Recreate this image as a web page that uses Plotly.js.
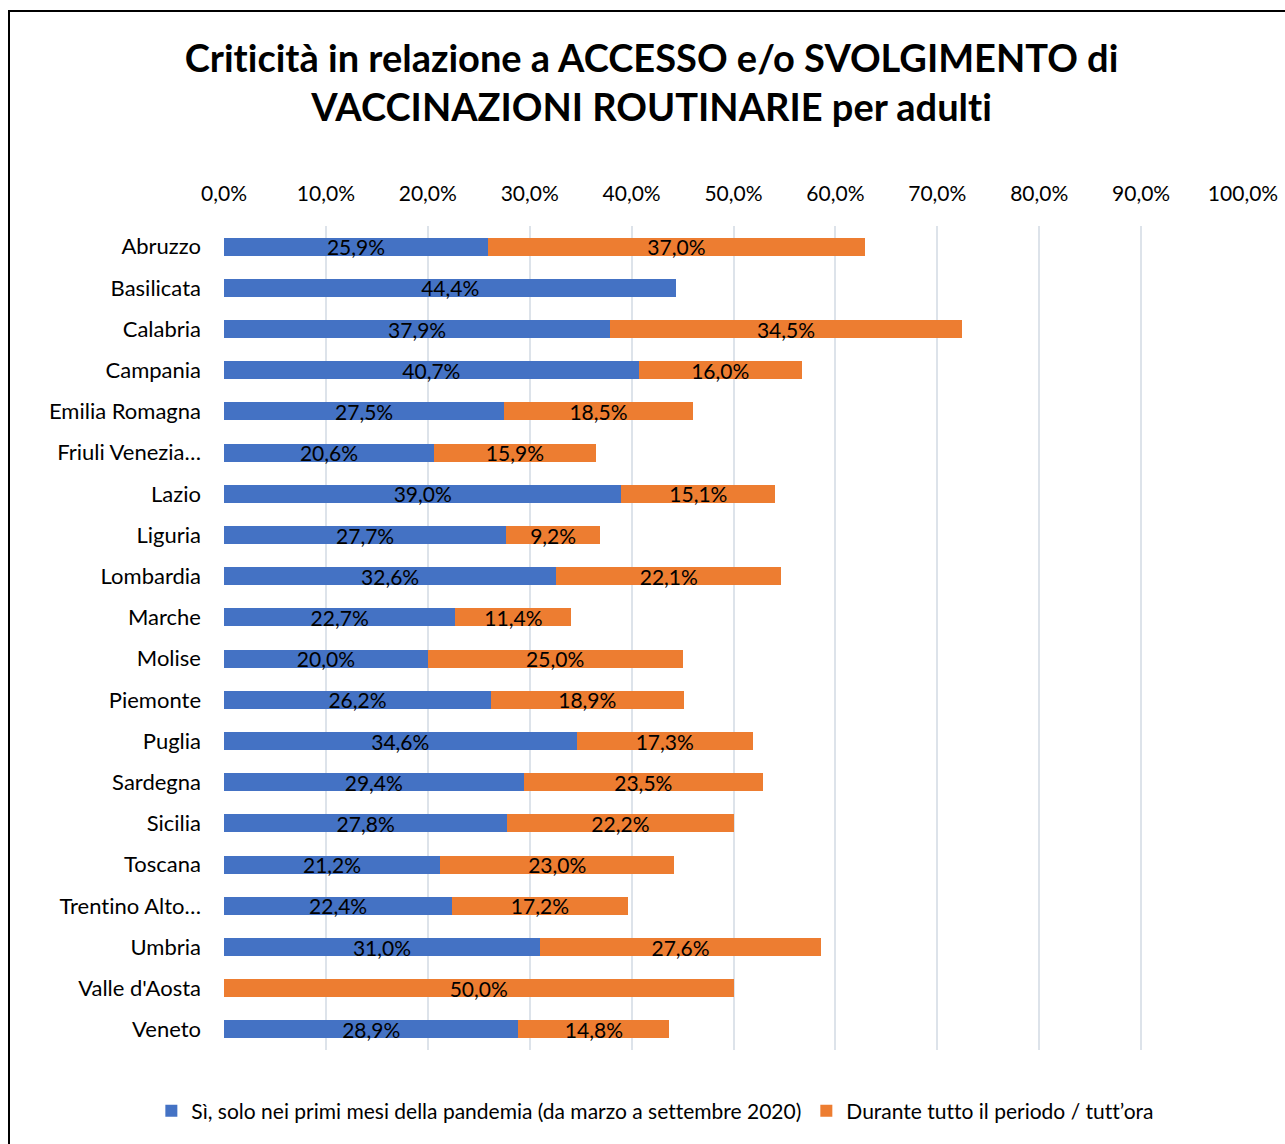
<!DOCTYPE html>
<html>
<head>
<meta charset="utf-8">
<script src="https://cdn.plot.ly/plotly-3.0.1.min.js"></script>
<style>
  html, body { margin: 0; padding: 0; background: #fff; overflow: hidden; }
  #chart { width: 1285px; height: 1144px; }
  #frame { position: absolute; left: 8px; top: 10px; width: 1300px; height: 1200px;
           border: 2px solid #000; pointer-events: none; box-sizing: border-box; }
  svg text { font-variant-ligatures: none; font-feature-settings: "liga" 0; }
</style>
</head>
<body>
<div id="chart"></div>
<div id="frame"></div>
<script>
const regions = ["Abruzzo","Basilicata","Calabria","Campania","Emilia Romagna","Friuli Venezia…","Lazio","Liguria","Lombardia","Marche","Molise","Piemonte","Puglia","Sardegna","Sicilia","Toscana","Trentino Alto…","Umbria","Valle d'Aosta","Veneto"];
const primiMesi = [25.9,44.4,37.9,40.7,27.5,20.6,39.0,27.7,32.6,22.7,20.0,26.2,34.6,29.4,27.8,21.2,22.4,31.0,null,28.9];
const tuttoPeriodo = [37.0,null,34.5,16.0,18.5,15.9,15.1,9.2,22.1,11.4,25.0,18.9,17.3,23.5,22.2,23.0,17.2,27.6,50.0,14.8];
const seriesNames = ["Sì, solo nei primi mesi della pandemia (da marzo a settembre 2020)", "Durante tutto il periodo / tutt’ora"];
const xTicks = [0,10,20,30,40,50,60,70,80,90,100];

const FONT = "Lato, 'Open Sans', sans-serif";
const common = {
  type: 'bar', orientation: 'h', y: regions,
  texttemplate: '%{x:.1f}%', textposition: 'inside', insidetextanchor: 'middle',
  constraintext: 'none', textangle: 0,
  textfont: {family: FONT, size: 21, color: '#000'},
  hoverinfo: 'x+y'
};
const data = [
  Object.assign({}, common, {name: seriesNames[0], x: primiMesi, marker: {color: '#4472c4'}}),
  Object.assign({}, common, {name: seriesNames[1], x: tuttoPeriodo, marker: {color: '#ed7d31'}})
];
const layout = {
  width: 1285, height: 1144,
  margin: {l: 224, r: 42, t: 226, b: 94},
  paper_bgcolor: '#fff', plot_bgcolor: '#fff',
  separators: ',.',
  barmode: 'stack', bargap: 0.56,
  font: {family: FONT, size: 21, color: '#000'},
  title: {text: 'Criticità in relazione a ACCESSO e/o SVOLGIMENTO di<br>VACCINAZIONI ROUTINARIE per adulti',
          font: {family: FONT, size: 38, color: '#000', weight: 'bold'},
          x: 0.507, xanchor: 'center', xref: 'container',
          y: 1 - 72/1144, yanchor: 'middle', yref: 'container'},
  xaxis: {side: 'top', range: [0, 100], tickvals: xTicks, ticktext: xTicks.map(v => v.toFixed(1).replace('.', ',') + '%'),
          showgrid: true, gridcolor: '#dde3ea', gridwidth: 2, zeroline: false, showline: false,
          ticks: '', ticklabelstandoff: 20, tickfont: {family: FONT, size: 21, color: '#000'}, fixedrange: true},
  yaxis: {autorange: 'reversed', showgrid: false, zeroline: false, showline: false, ticks: '',
          ticklabelstandoff: 22, tickfont: {family: FONT, size: 22, color: '#000'}, fixedrange: true},
  showlegend: true,
  legend: {orientation: 'h', traceorder: 'normal', xref: 'container', x: 0.51, xanchor: 'center',
           yref: 'container', y: 1 - 1111/1144, yanchor: 'middle',
           font: {family: FONT, size: 21, color: '#000'}, itemwidth: 30, tracegroupgap: 0,
           itemclick: false}
};
Plotly.newPlot('chart', data, layout, {displayModeBar: false, staticPlot: true});
</script>
</body>
</html>
